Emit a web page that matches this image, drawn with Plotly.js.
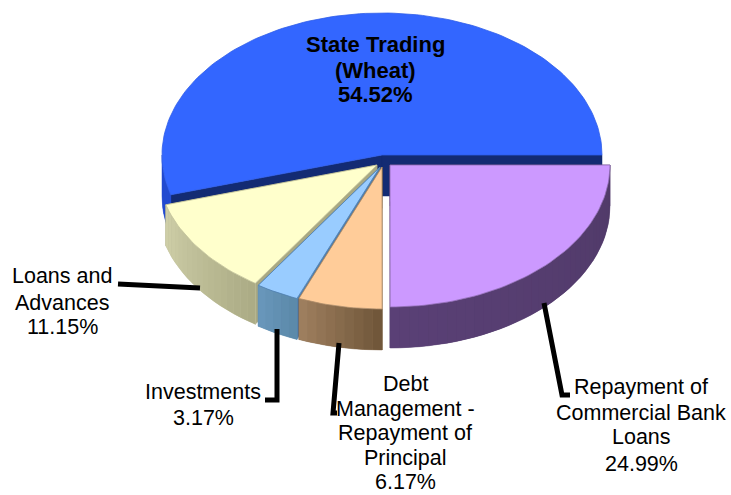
<!DOCTYPE html>
<html>
<head>
<meta charset="utf-8">
<script src="https://cdn.plot.ly/plotly-3.0.1.min.js"></script>
<style>html,body{margin:0;padding:0;background:#fff}#chart{width:731px;height:495px}</style>
</head>
<body>
<div id="chart"></div>
<script>
// Data, clockwise from 3 o'clock
const categories = ["Repayment of Commercial Bank Loans", "Debt Management - Repayment of Principal", "Investments", "Loans and Advances", "State Trading (Wheat)"];
const shares = [24.99, 6.17, 3.17, 11.15, 54.52];

// Drawing styles
const topColors  = ["#CC99FF", "#FFCC99", "#99CCFF", "#FFFFCC", "#3366FF"];
const edgeColors = ["#8E6BB2", "#B08E6B", "#4F7FB0", "#C4C49C", "#2F5DE8"];
const cutColors  = ["#523A6B", "#6E5538", "#4F7FAE", "#A9A983", "#132B73"];
const wallStart  = [[0x50,0x3A,0x68],[0x6E,0x55,0x38],[0x5A,0x88,0xA8],[0xAB,0xAB,0x85],[0x22,0x4A,0xD0]];
const wallEnd    = [[0x5A,0x40,0x76],[0xA0,0x80,0x60],[0x6A,0x98,0xBC],[0xCF,0xCF,0xA8],[0x22,0x4A,0xD0]];
const centerX = [390, 382, 380, 377, 382];
const centerY = [165, 167, 167, 165, 155];
const radiusX = 220, radiusY = 142, depth = 41;

// Labels, one entry per text line
const labelLines = ["State Trading", "(Wheat)", "54.52%",
  "Loans and", "Advances", "11.15%",
  "Investments", "3.17%",
  "Debt", "Management -", "Repayment of", "Principal", "6.17%",
  "Repayment of", "Commercial Bank", "Loans", "24.99%"];
const labelBold = [true, true, true, false, false, false, false, false, false, false, false, false, false, false, false, false, false];
const labelX = [375, 375, 375, 62, 62, 62, 203, 203, 405, 405, 405, 405, 405, 641, 641, 641, 641];
const labelBase = [52, 78, 102, 283, 310, 334, 399, 425, 391, 416, 440, 465, 489.5, 394, 420, 444, 471];

// Leader lines
const leaderX = [[118,200],[277,277,265],[339,333,337],[544,562,570]];
const leaderY = [[284,288],[329,400,400],[343,413,413],[303,395,395]];

const rad = d => d * Math.PI / 180;
const mix = (a, b, f) => "rgb(" + a.map((v, i) => Math.round(v + (b[i] - v) * f)).join(",") + ")";
const traces = [];
function poly(xs, ys, fill, line, w) {
  traces.push({type: "scatter", mode: "lines", x: xs, y: ys, fill: "toself", fillcolor: fill,
    line: {color: line || fill, width: w === undefined ? 1 : w}, hoverinfo: "skip"});
}

// Cumulative angles
const starts = [], ends = [];
let acc = 0;
shares.forEach(s => { starts.push(acc); acc += s * 3.6; ends.push(acc); });

// Painter order: back slice first
for (let i = shares.length - 1; i >= 0; i--) {
  const cx = centerX[i], cy = centerY[i], a = starts[i], b = ends[i];
  const px = t => cx + radiusX * Math.cos(rad(t));
  const py = t => cy + radiusY * Math.sin(rad(t));
  // cut faces
  [a, b].forEach(t => {
    poly([cx, px(t), px(t), cx, cx], [cy, py(t), py(t) + depth, cy + depth, cy], cutColors[i], cutColors[i], 0.5);
  });
  // outer wall, visible lower half only
  const w0 = Math.max(a, 0), w1 = Math.min(b, 180);
  const n = Math.max(2, Math.ceil((w1 - w0) / 2.5));
  // underlay hides the seams between shaded strips
  const ux = [], uy = [];
  for (let k = 0; k <= n; k++) { const t = w0 + (w1 - w0) * k / n; ux.push(px(t)); uy.push(py(t)); }
  for (let k = n; k >= 0; k--) { const t = w0 + (w1 - w0) * k / n; ux.push(px(t)); uy.push(py(t) + depth); }
  ux.push(ux[0]); uy.push(uy[0]);
  const mid = mix(wallStart[i], wallEnd[i], 0.5);
  poly(ux, uy, mid, mid, 0.5);
  for (let k = 0; k < n; k++) {
    const t0 = w0 + (w1 - w0) * k / n, t1 = w0 + (w1 - w0) * (k + 1) / n;
    const c = mix(wallStart[i], wallEnd[i], (k + 0.5) / n);
    poly([px(t0), px(t1), px(t1), px(t0), px(t0)],
         [py(t0), py(t1), py(t1) + depth, py(t0) + depth, py(t0)], c, c, 0);
  }
  // top surface
  const xs = [cx], ys = [cy];
  const m = Math.ceil((b - a) / 1.5);
  for (let k = 0; k <= m; k++) {
    const t = a + (b - a) * k / m;
    xs.push(px(t)); ys.push(py(t));
  }
  xs.push(cx); ys.push(cy);
  poly(xs, ys, topColors[i], edgeColors[i], 0.8);
}

leaderX.forEach((lx, i) => {
  traces.push({type: "scatter", mode: "lines", x: lx, y: leaderY[i],
    line: {color: "#000", width: 5}, hoverinfo: "skip"});
});

const annotations = labelLines.map((t, i) => ({
  text: labelBold[i] ? "<b>" + t + "</b>" : t,
  x: labelX[i], y: labelBase[i] - 7.5, xref: "x", yref: "y", xanchor: "center", yanchor: "middle",
  showarrow: false, align: "center", borderpad: 0,
  font: {family: "Liberation Sans, Arial, sans-serif", size: labelBold[i] ? 22 : 21.5, color: "#000"}
}));

Plotly.newPlot("chart", traces, {
  width: 731, height: 495, margin: {l: 0, r: 0, t: 0, b: 0}, showlegend: false,
  paper_bgcolor: "#fff", plot_bgcolor: "#fff",
  xaxis: {range: [0, 731], visible: false, fixedrange: true},
  yaxis: {range: [495, 0], visible: false, fixedrange: true},
  annotations: annotations
}, {displayModeBar: false, staticPlot: true});
</script>
</body>
</html>
